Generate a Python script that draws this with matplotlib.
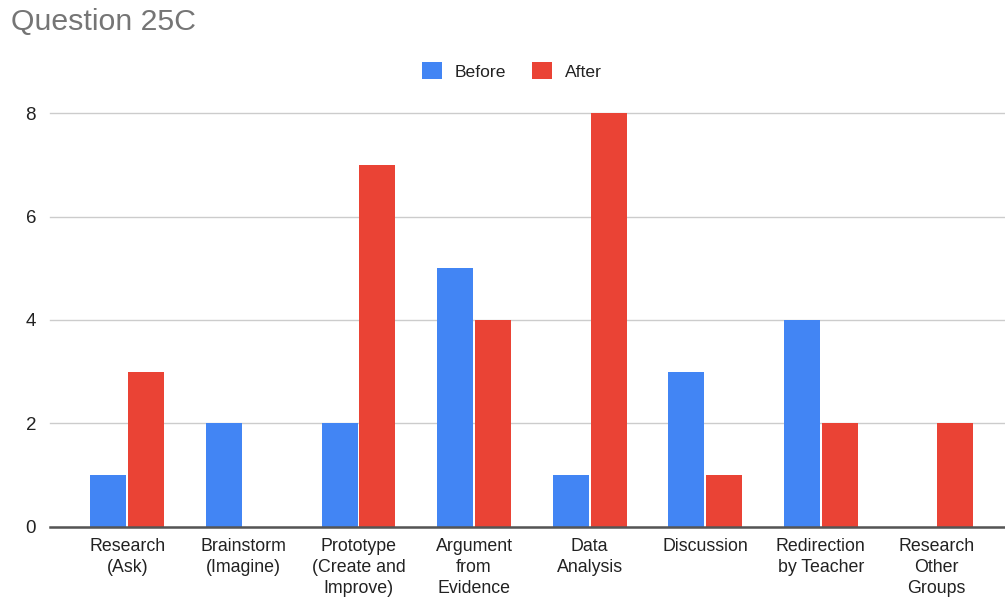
import matplotlib
matplotlib.use("Agg")
import matplotlib.pyplot as plt
import numpy as np

categories = ["Research\n(Ask)", "Brainstorm\n(Imagine)", "Prototype\n(Create and\nImprove)",
              "Argument\nfrom\nEvidence", "Data\nAnalysis", "Discussion",
              "Redirection\nby Teacher", "Research\nOther\nGroups"]
before = [1, 2, 2, 5, 1, 3, 4, 0]
after = [3, 0, 7, 4, 8, 1, 2, 2]
yticks = [0, 2, 4, 6, 8]

BLUE = "#4285F4"
RED = "#EA4335"

plt.rcParams["font.family"] = ["Liberation Sans", "DejaVu Sans"]

fig = plt.figure(figsize=(10.05, 6.01), dpi=100)
ax = fig.add_axes([50 / 1005, 1 - 526.7 / 601, 1 - 50 / 1005, (526.7 - 113.3) / 601])

x = np.arange(len(categories))
w = 0.311
off = 0.164
ax.bar(x - off, before, width=w, color=BLUE, label="Before", zorder=3)
ax.bar(x + off, after, width=w, color=RED, label="After", zorder=3)

ax.set_xlim(-0.67, 7.595)
ax.set_ylim(0, 8)
ax.set_yticks(yticks)
ax.set_yticklabels([str(v) for v in yticks], fontsize=13.5, color="#222222")
ax.set_xticks(x)
ax.set_xticklabels(categories, fontsize=12.8, color="#222222", linespacing=1.32)
ax.tick_params(axis="both", length=0)
ax.tick_params(axis="y", pad=10)
ax.tick_params(axis="x", pad=8)

ax.yaxis.grid(True, color="#cccccc", linewidth=1.0, zorder=0)
ax.set_axisbelow(True)
for s in ["top", "right", "left"]:
    ax.spines[s].set_visible(False)
ax.spines["bottom"].set_color("#555555")
ax.spines["bottom"].set_linewidth(1.8)
ax.spines["bottom"].set_zorder(4)
for gl in ax.get_ygridlines():
    gl.set_clip_on(False)

fig.text(11 / 1005, 1 - 22 / 601, "Question 25C", fontsize=21.8, color="#757575",
         ha="left", va="center")

leg = fig.legend(loc="center", bbox_to_anchor=(512 / 1005, 1 - 71 / 601), ncol=2,
                 frameon=False, fontsize=12.6, handlelength=1.1, handleheight=1.1,
                 handletextpad=0.75, columnspacing=1.5)
for t in leg.get_texts():
    t.set_color("#222222")

fig.savefig("out.png", dpi=100, facecolor="white")
